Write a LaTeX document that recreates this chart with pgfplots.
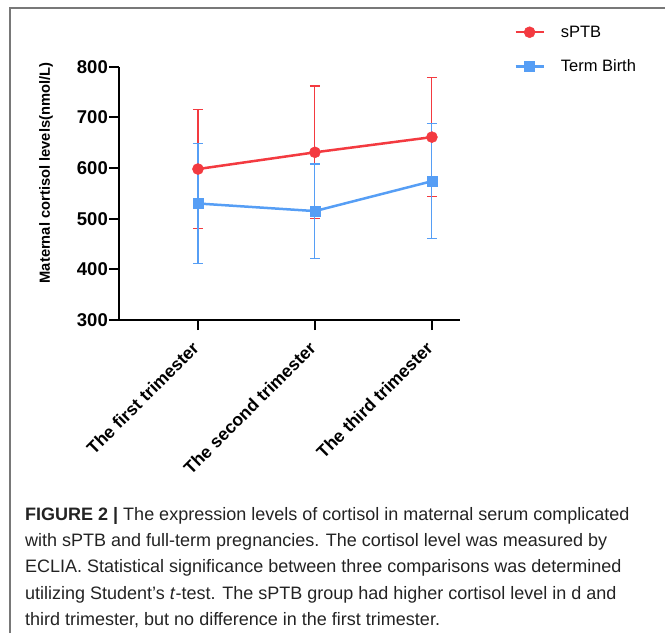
\documentclass[border=0pt]{standalone}
\usepackage{pgfplots}
\pgfplotsset{compat=1.18}
\usepackage{fontspec}
\setmainfont{Liberation Sans}
\definecolor{sred}{RGB}{243,58,64}
\definecolor{tblue}{RGB}{86,158,245}
\definecolor{frame}{RGB}{120,120,120}
\definecolor{captxt}{RGB}{35,35,35}
\begin{document}
\begin{tikzpicture}[x=1pt,y=1pt]
\path[use as bounding box] (0,0) rectangle (665,633);
\draw[frame, line width=1.5pt] (10,0) -- (10,625) -- (665,625);
\begin{axis}[
  at={(119pt,313pt)}, anchor=south west,
  scale only axis, width=341pt, height=253.3pt,
  xmin=-0.675, xmax=2.24, ymin=300, ymax=800,
  axis x line*=bottom, axis y line*=left,
  axis line style={line width=2pt, black, -},
  every tick/.style={line width=2pt, black},
  major tick length=10pt,
  tick align=outside,
  xtick={0,1,2},
  xticklabels={The first trimester, The second trimester, The third trimester},
  xticklabel style={xshift=-7pt, yshift=-8.7pt, rotate=45, anchor=north east, font=\bfseries\fontsize{17.6}{19}\selectfont, inner sep=1pt},
  ytick={300,400,...,800},
  yticklabel style={font=\bfseries\fontsize{18.5}{20}\selectfont, inner sep=1pt},
  /pgf/number format/assume math mode=true,
  clip=false,
  legend style={at={(1.15,1.178)}, anchor=north west, draw=none, fill=none,
    font=\fontsize{16.5}{18}\selectfont, row sep=17pt,
    nodes={inner sep=2pt}},
  legend cell align=left,
  legend image code/.code={\draw[mark repeat=2,mark phase=2,#1] plot coordinates {(0pt,0pt)(14pt,0pt)(28pt,0pt)};},
]
\addplot[sred, line width=2.5pt, mark=*, mark size=5.5pt, mark options={solid, fill=sred, line width=0.5pt},
  error bars/.cd, y dir=both, y explicit,
  error bar style={line width=1.1pt, sred},
  error mark options={rotate=90, mark size=5pt, line width=1.1pt, sred}]
  coordinates {(0,598) +- (0,117) (1,631) +- (0,131) (2,661) +- (0,117)};
\addlegendentry{\hspace{14pt}sPTB}
\addplot[tblue, line width=2.5pt, mark=square*, mark size=5pt, mark options={solid, fill=tblue, line width=0.5pt},
  error bars/.cd, y dir=both, y explicit,
  error bar style={line width=1.1pt, tblue},
  error mark options={rotate=90, mark size=5pt, line width=1.1pt, tblue}]
  coordinates {(0,530) +- (0,118) (1,515) +- (0,93) (2,574) +- (0,113)};
\addlegendentry{\hspace{14pt}Term Birth}
\end{axis}
\node[rotate=90, font=\bfseries\fontsize{14.7}{16}\selectfont] at (46,460) {Maternal cortisol levels(nmol/L)};
\begin{scope}[every node/.style={anchor=base west, inner sep=0pt, text=captxt, font=\fontsize{18}{20}\selectfont}]
\node at (25,112) {\textbf{FIGURE 2 |} The expression levels of cortisol in maternal serum complicated};
\node at (25,86) {with sPTB and full-term pregnancies. The cortisol level was measured by};
\node at (25,60) {ECLIA. Statistical significance between three comparisons was determined};
\node at (25,34) {utilizing Student's \textit{t}-test. The sPTB group had higher cortisol level in d and};
\node at (25,7.5) {third trimester, but no difference in the first trimester.};
\end{scope}
\end{tikzpicture}
\end{document}
